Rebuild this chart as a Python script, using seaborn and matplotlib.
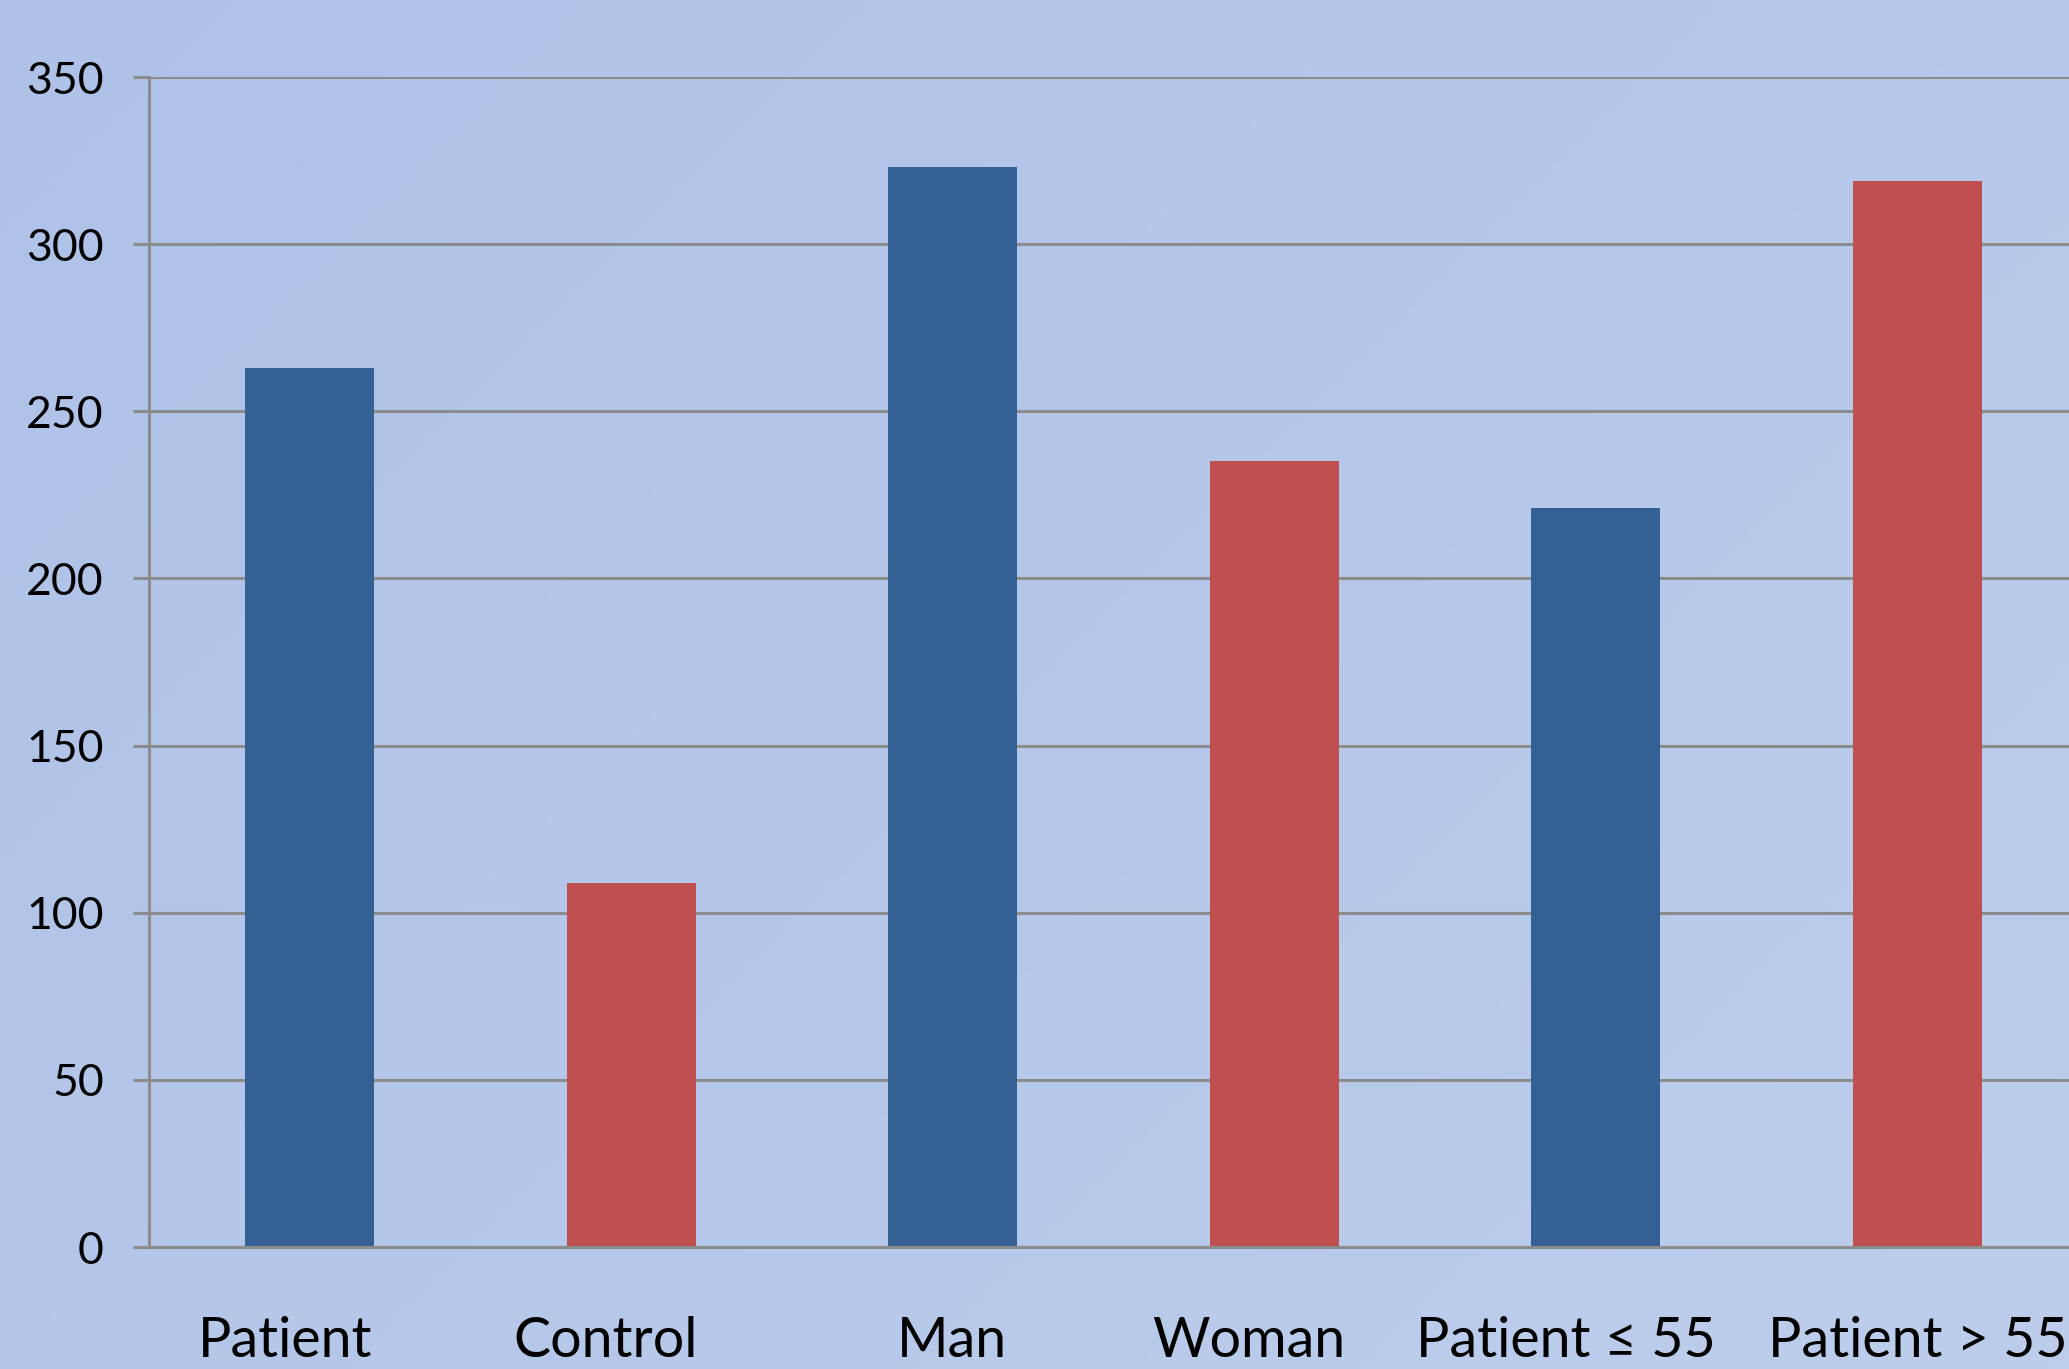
import numpy as np
import pandas as pd
import matplotlib
matplotlib.use("Agg")
import matplotlib.pyplot as plt
import matplotlib.transforms as mtransforms
import seaborn as sns
from matplotlib.colors import LinearSegmentedColormap

categories = ["Patient", "Control", "Man", "Woman", "Patient \u2264 55", "Patient > 55"]
values = [263, 109, 323, 235, 221, 319]
bar_colors = ["#356094", "#C0504F", "#356094", "#C0504F", "#356094", "#C0504F"]
yticks = [0, 50, 100, 150, 200, 250, 300, 350]
label_shift_px = [-25, -26, -1, -26, -30, 1]

sns.set_theme(style="white")
plt.rcParams['font.family'] = ['Lato', 'DejaVu Sans']

W, H = 2069, 1369
fig = plt.figure(figsize=(W / 100, H / 100), dpi=100)

# gradient background
bg = fig.add_axes([0, 0, 1, 1], zorder=-10)
xx, yy = np.meshgrid(np.linspace(0, 1, 200), np.linspace(0, 1, 200))
g = (xx * 0.6 + yy * 0.4)
cmap = LinearSegmentedColormap.from_list("bg", ["#AEC2E8", "#BDCEEC"])
bg.imshow(g, cmap=cmap, aspect="auto", extent=[0, 1, 0, 1], origin="upper")
bg.axis("off")

left = 149 / W
right = 2078 / W
bottom = 1 - 1247 / H
top = 1 - 77 / H
ax = fig.add_axes([left, bottom, right - left, top - bottom])
ax.patch.set_alpha(0)

df = pd.DataFrame({"cat": categories, "val": values})
sns.barplot(data=df, x="cat", y="val", hue="cat", palette=bar_colors,
            width=0.4, legend=False, ax=ax, saturation=1, edgecolor="none")

ax.set_xlim(-0.5, 5.5)
ax.set_ylim(0, 350)
ax.set_yticks(yticks)
ax.set_yticklabels([str(t) for t in yticks])
ax.set_xlabel("")
ax.set_ylabel("")

ax.grid(axis="y", color="#8C8C8C", linewidth=2.2)
ax.set_axisbelow(True)
for s in ["top", "right"]:
    ax.spines[s].set_visible(False)
for s in ["left", "bottom"]:
    ax.spines[s].set_color("#8C8C8C")
    ax.spines[s].set_linewidth(2.2)

ax.tick_params(axis="y", direction="out", length=11.5, width=2.2, color="#8C8C8C",
               labelsize=32, pad=21, labelcolor="black", left=True)
ax.tick_params(axis="x", length=0, labelsize=40, pad=50, labelcolor="black")

for lab, dx in zip(ax.get_xticklabels(), label_shift_px):
    lab.set_transform(lab.get_transform() +
                      mtransforms.ScaledTranslation(dx / 100, 0, fig.dpi_scale_trans))

fig.savefig("out.png", dpi=100)
